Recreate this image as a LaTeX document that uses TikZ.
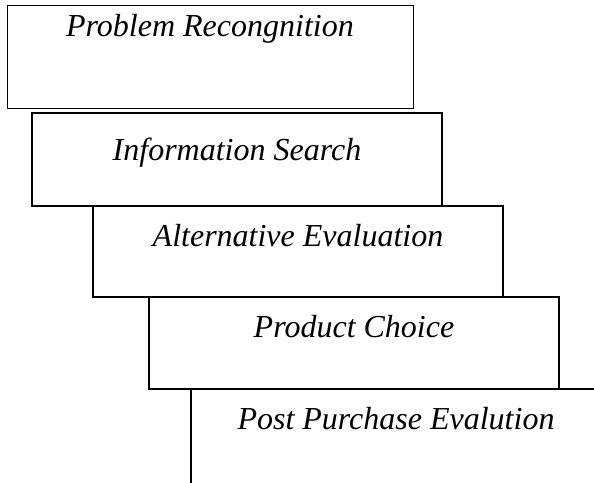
\documentclass[tikz,border=0pt]{standalone}
\usepackage{fontspec}
\setmainfont{Liberation Serif}
\usetikzlibrary{positioning}

\begin{document}
\begin{tikzpicture}[x=1pt,y=-1pt,
        stage/.style={rectangle,draw,line width=1.3pt,minimum width=410pt,minimum height=92pt,inner sep=0pt},
        stagetext/.style={anchor=base,inner sep=0pt,font=\fontsize{32}{38}\itshape}]
        \useasboundingbox (0,0) rectangle (594,482);
        \clip (0,0) rectangle (594,482);
        \node [stage,line width=1pt,minimum width=406pt,minimum height=103pt] (recog) at (210,56.5) {};
        \node [stage,minimum height=93pt] (search) at (237,159.5) {};
        \node [stage,minimum height=91pt] (altern) at (298,251.5) {};
        \node [stage] (choice) at (354,343) {};
        \node [stage,minimum height=100pt] (post) at (396,439) {};
        \node [stagetext] (recogtext) at ([yshift=-32pt]recog.north) {Problem Recongnition};
        \node [stagetext] (searchtext) at ([yshift=-48pt]search.north) {Information Search};
        \node [stagetext] (alterntext) at ([yshift=-41pt]altern.north) {Alternative Evaluation};
        \node [stagetext] (choicetext) at ([yshift=-41pt]choice.north) {Product Choice};
        \node [stagetext] (posttext) at ([yshift=-41pt]post.north) {Post Purchase Evalution};
\end{tikzpicture}
\end{document}
